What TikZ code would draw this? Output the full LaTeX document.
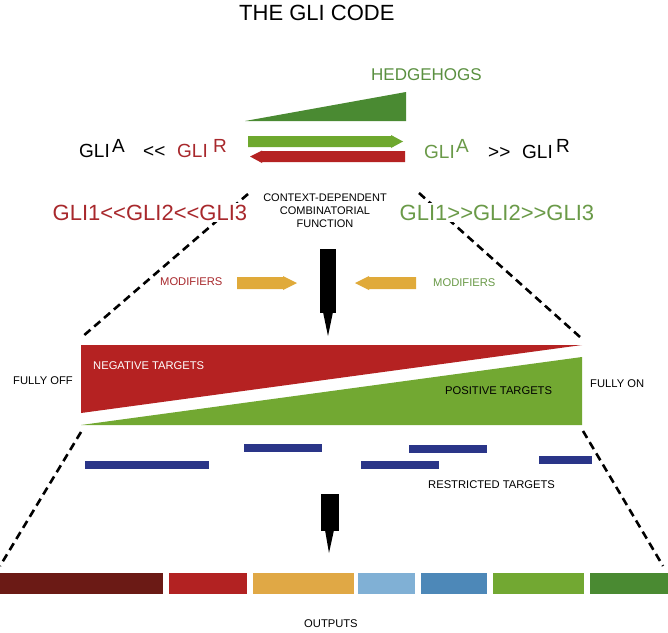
\documentclass[tikz,border=0pt]{standalone}
\usepackage{fontspec}
\setmainfont{Liberation Sans}
\definecolor{txtred}{HTML}{A8282C}
\definecolor{txtgreen}{HTML}{6A9A48}
\definecolor{hhgreen}{HTML}{5A9040}
\definecolor{wedgegreen}{HTML}{4A8A32}
\definecolor{arrgreen}{HTML}{6EA82E}
\definecolor{arrred}{HTML}{B52222}
\definecolor{modorange}{HTML}{E0AA3A}
\definecolor{navy}{HTML}{2A3588}
\definecolor{outA}{HTML}{6B1A15}
\definecolor{outB}{HTML}{B22222}
\definecolor{outC}{HTML}{E0A845}
\definecolor{outD}{HTML}{80B0D5}
\definecolor{outE}{HTML}{4D88B8}
\definecolor{outF}{HTML}{72A832}
\definecolor{outG}{HTML}{4A8A32}
\newcommand\myfs[1]{\fontsize{#1}{#1}\selectfont}
\newcommand\lt{<\kern0pt<}
\newcommand\gt{>\kern0pt>}
\begin{document}
\begin{tikzpicture}[x=1pt,y=-1pt,
  txt/.style={inner sep=0pt, anchor=base west},
  small/.style={txt, font=\myfs{11.2}},
  zoomline/.style={line width=2.6pt, dash pattern=on 8pt off 5pt},
  bluebar/.style={fill=navy},
]
\useasboundingbox (0,0) rectangle (668,632);
\fill[white] (0,0) rectangle (668,632);

% title
\node[txt, font=\myfs{22}] (title) at (239,20) {THE GLI CODE};
\node[txt, font=\myfs{17}, text=hhgreen] (hh) at (371,80) {HEDGEHOGS};

% hedgehog wedge and arrows
\fill[wedgegreen] (245,121) -- (406,92) -- (406,121) -- cycle;
\fill[arrgreen] (248,136) -- (391,136) -- (391,135) -- (403,141.5) -- (391,148) -- (391,147) -- (248,147) -- cycle;
\fill[arrred] (405,151) -- (262,151) -- (262,150.5) -- (250,156.5) -- (262,163) -- (262,162) -- (405,162) -- cycle;

% GLI ratios
\node[txt, font=\myfs{19}] (g1) at (79,157) {GLI};
\node[txt, font=\myfs{19}] (g1s) at (112,152) {A};
\node[txt, font=\myfs{19}] (g1op) at (143,157) {\lt};
\node[txt, font=\myfs{19}, text=txtred] (g2) at (177,157) {GLI};
\node[txt, font=\myfs{19}, text=txtred] (g2s) at (213,152) {R};
\node[txt, font=\myfs{19}, text=txtgreen] (g3) at (424,158) {GLI};
\node[txt, font=\myfs{19}, text=txtgreen] (g3s) at (456,152) {A};
\node[txt, font=\myfs{19}] (g3op) at (488,158) {\gt};
\node[txt, font=\myfs{19}] (g4) at (522,158) {GLI};
\node[txt, font=\myfs{19}] (g4s) at (556,152) {R};

% targets triangles
\fill[arrred] (81,345) -- (582,345) -- (81,413) -- cycle;
\fill[outF] (81,425) -- (582,425) -- (582,357) -- cycle;

% dashed zoom lines
\coordinate (dL1) at (248,194);
\coordinate (dL2) at (82,337);
\coordinate (dR1) at (419,193);
\coordinate (dR2) at (580,337);
\coordinate (dL3) at (81,432);
\coordinate (dL4) at (0,566);
\coordinate (dR3) at (583,431);
\coordinate (dR4) at (663,566);
\draw[zoomline] (dL1) -- (dL2);
\draw[zoomline] (dR1) -- (dR2);
\draw[zoomline] (dL3) -- (dL4);
\draw[zoomline] (dR3) -- (dR4);

% paralog orders
\node[txt, font=\myfs{22}, text=txtred, fill=white, inner sep=1.5pt] (negord) at (51,220) {GLI1\lt GLI2\lt GLI3};
\node[txt, font=\myfs{22}, text=txtgreen, fill=white, inner sep=1.5pt] (posord) at (398,220) {GLI1\gt GLI2\gt GLI3};
\node[inner sep=0pt, anchor=north, align=center, font=\fontsize{11}{13}\selectfont] (ctx) at (325,194) {CONTEXT-DEPENDENT\\COMBINATORIAL\\FUNCTION};

% main black arrow
\fill (320,249) rectangle (336,313);
\fill (323,312) -- (333,312) -- (328,336) -- cycle;

% modifiers
\node[small, text=txtred] (modL) at (160,285) {MODIFIERS};
\node[small, text=txtgreen] (modR) at (433,286) {MODIFIERS};
\fill[modorange] (237,277) -- (283,277) -- (283,276) -- (297,283) -- (283,290) -- (283,289) -- (237,289) -- cycle;
\fill[modorange] (416,277) -- (369,277) -- (369,276) -- (355,283) -- (369,290) -- (369,289) -- (416,289) -- cycle;

% target labels
\node[small, text=white] (neg) at (93,369) {NEGATIVE TARGETS};
\node[small] (pos) at (445,394) {POSITIVE TARGETS};
\node[small] (off) at (13,384) {FULLY OFF};
\node[small] (on) at (590,387) {FULLY ON};

% restricted targets
\fill[bluebar] (85,461) rectangle (209,469);
\fill[bluebar] (244,444) rectangle (322,452);
\fill[bluebar] (361,461) rectangle (439,469);
\fill[bluebar] (409,445) rectangle (487,453);
\fill[bluebar] (539,456) rectangle (592,464);
\node[small] (restr) at (428,488) {RESTRICTED TARGETS};

% second black arrow
\fill (321,494) rectangle (339,531);
\fill (325,530) -- (334,530) -- (329,553) -- cycle;

% outputs
\fill[outA] (0,573) rectangle (163,594);
\fill[outB] (169,573) rectangle (247,594);
\fill[outC] (253,573) rectangle (354,594);
\fill[outD] (358,573) rectangle (415,594);
\fill[outE] (421,573) rectangle (487,594);
\fill[outF] (493,573) rectangle (584,594);
\fill[outG] (590,573) rectangle (668,594);
\node[small] (outs) at (304,627) {OUTPUTS};
\end{tikzpicture}
\end{document}
